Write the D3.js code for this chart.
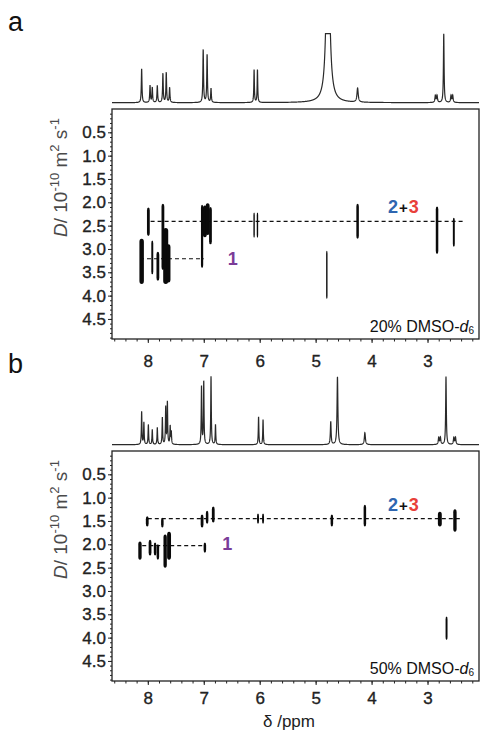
<!DOCTYPE html>
<html>
<head>
<meta charset="utf-8">
<script src="https://cdn.jsdelivr.net/npm/d3@7"></script>
<style>
  body { margin: 0; background: #fff; }
  svg { display: block; font-family: "Liberation Sans", Arial, sans-serif; }
</style>
</head>
<body>
<svg id="chart"></svg>
<script>
// 1D spectra, peak lists (shift ppm, height, half width ppm)
const specA_shift = [8.11, 7.96, 7.92, 7.83, 7.73, 7.67, 7.61, 7.01, 6.94, 6.87, 6.10, 6.04, 4.78, 4.25, 2.86, 2.83, 2.71, 2.58, 2.55];
const specA_height = [34, 17, 15, 17, 29, 30, 15, 53, 48, 14, 33, 33, 200, 14, 7, 7, 69, 7, 7];
const specA_hwhm = [0.007, 0.007, 0.007, 0.007, 0.007, 0.007, 0.007, 0.007, 0.007, 0.007, 0.006, 0.006, 0.032, 0.013, 0.009, 0.009, 0.007, 0.009, 0.009];

const specB_shift = [8.11, 8.07, 7.99, 7.92, 7.83, 7.74, 7.68, 7.65, 7.60, 7.58, 7.04, 7.00, 6.87, 6.79, 6.02, 5.94, 4.73, 4.61, 4.12, 2.80, 2.77, 2.67, 2.53, 2.50];
const specB_height = [33, 22, 20, 15, 17, 27, 37, 42, 18, 12, 58, 63, 68, 20, 28, 25, 23, 68, 12, 7, 7, 68, 7, 7];
const specB_hwhm = [0.006, 0.006, 0.006, 0.006, 0.006, 0.006, 0.006, 0.006, 0.006, 0.006, 0.006, 0.006, 0.006, 0.006, 0.006, 0.006, 0.008, 0.009, 0.011, 0.009, 0.009, 0.007, 0.009, 0.009];

// DOSY cross peaks (shift, D low, D high, width in ppm)
const dosyA_shift = [8.11, 7.99, 7.92, 7.82, 7.73, 7.68, 7.63, 7.03, 6.98, 6.93, 6.88, 6.10, 6.04, 4.80, 4.25, 2.83, 2.53];
const dosyA_dLow = [2.78, 2.11, 2.82, 3.06, 2.03, 2.55, 2.90, 2.05, 2.07, 2.02, 2.10, 2.22, 2.22, 3.04, 2.03, 2.09, 2.33];
const dosyA_dHigh = [3.75, 2.72, 3.54, 3.68, 3.45, 3.75, 3.72, 3.41, 2.75, 2.70, 2.90, 2.76, 2.76, 4.07, 2.78, 3.11, 2.95];
const dosyA_width = [0.08, 0.05, 0.035, 0.05, 0.05, 0.09, 0.07, 0.04, 0.07, 0.07, 0.05, 0.025, 0.025, 0.025, 0.045, 0.045, 0.035];

const dosyB_shift = [8.01, 7.74, 7.03, 6.94, 6.83, 6.03, 5.94, 4.71, 4.12, 2.78, 2.51, 8.14, 7.96, 7.87, 7.82, 7.69, 7.62, 6.98, 2.66];
const dosyB_dLow = [1.40, 1.43, 1.36, 1.28, 1.19, 1.34, 1.34, 1.36, 1.15, 1.30, 1.25, 1.94, 1.90, 1.96, 2.00, 1.79, 1.73, 1.96, 3.55];
const dosyB_dHigh = [1.62, 1.64, 1.64, 1.56, 1.53, 1.56, 1.56, 1.62, 1.62, 1.62, 1.73, 2.33, 2.24, 2.24, 2.33, 2.50, 2.33, 2.18, 4.05];
const dosyB_width = [0.05, 0.045, 0.05, 0.045, 0.05, 0.035, 0.035, 0.045, 0.045, 0.07, 0.06, 0.06, 0.05, 0.045, 0.045, 0.06, 0.07, 0.045, 0.035];

// guide lines (D, from ppm, to ppm): [2+3, 1]
const linesA_D = [2.41, 3.21];
const linesA_from = [7.95, 8.14];
const linesA_to = [2.37, 7.0];
const linesB_D = [1.45, 2.03];
const linesB_from = [8.0, 8.1];
const linesB_to = [2.4, 7.0];

const xTicks = [8, 7, 6, 5, 4, 3];
const yTicks = [0.5, 1.0, 1.5, 2.0, 2.5, 3.0, 3.5, 4.0, 4.5];
const solvents = ['20% DMSO-', '50% DMSO-'];

const W = 481, H = 734;
const svg = d3.select('#chart').attr('width', W).attr('height', H);

const x = d3.scaleLinear().domain([8.64, 2.08]).range([112, 479]);

const panels = [
  { key: 'a', off: 0, spec: [specA_shift, specA_height, specA_hwhm],
    dosy: [dosyA_shift, dosyA_dLow, dosyA_dHigh, dosyA_width],
    lines: [linesA_D, linesA_from, linesA_to], solvent: solvents[0],
    tickPad: 12, oneX: 6.57, oneY: 265 },
  { key: 'b', off: 342, spec: [specB_shift, specB_height, specB_hwhm],
    dosy: [dosyB_shift, dosyB_dLow, dosyB_dHigh, dosyB_width],
    lines: [linesB_D, linesB_from, linesB_to], solvent: solvents[1],
    tickPad: 7, oneX: 6.67, oneY: 550 }
];

const tickText = a => a.selectAll('text')
  .attr('font-size', 17).attr('fill', '#222').attr('stroke', '#222').attr('stroke-width', 0.35)
  .attr('font-family', '"Liberation Sans", Arial, sans-serif');

panels.forEach(p => {
  const g = svg.append('g');
  const top = 109 + p.off, bottom = 339 + p.off;
  const base = 102.7 + p.off;

  // panel letter
  g.append('text').attr('x', 8).attr('y', 31 + p.off)
    .attr('font-size', 27).attr('fill', '#111').text(p.key);

  // 1D spectrum
  const ys = d3.scaleLinear().domain([0, 69]).range([base, base - 69]).clamp(true);
  const [sh, ht, hw] = p.spec;
  const pts = d3.range(8.64, 2.08, -0.0015).map(d => {
    let v = 0;
    for (let i = 0; i < sh.length; i++) {
      const t = (d - sh[i]) / hw[i];
      v += ht[i] / (1 + t * t);
    }
    return [d, v];
  });
  g.append('path')
    .attr('d', d3.line().x(d => x(d[0])).y(d => ys(d[1]))(pts))
    .attr('fill', 'none').attr('stroke', '#2a2a2a').attr('stroke-width', 1.2);

  // D scale
  const y = d3.scaleLinear().domain([0, 4.93]).range([top, bottom]);

  // minor + major y ticks
  g.append('g').attr('transform', `translate(112,0)`)
    .call(d3.axisLeft(y).tickValues(d3.range(0.1, 4.95, 0.1)).tickSize(2).tickFormat(''))
    .call(a => a.select('.domain').remove())
    .call(a => a.selectAll('line').attr('stroke', '#222'));
  g.append('g').attr('transform', `translate(112,0)`)
    .call(d3.axisLeft(y).tickValues(yTicks).tickSize(4).tickPadding(2).tickFormat(d3.format('.1f')))
    .call(a => a.select('.domain').remove())
    .call(a => a.selectAll('line').attr('stroke', '#222'))
    .call(tickText);

  // x ticks
  g.append('g').attr('transform', `translate(0,${bottom})`)
    .call(d3.axisBottom(x).tickValues(d3.range(8.6, 2.1, -0.2)).tickSize(2.5).tickFormat(''))
    .call(a => a.select('.domain').remove())
    .call(a => a.selectAll('line').attr('stroke', '#222'));
  g.append('g').attr('transform', `translate(0,${bottom})`)
    .call(d3.axisBottom(x).tickValues(xTicks).tickSize(4).tickPadding(p.tickPad).tickFormat(d3.format('d')))
    .call(a => a.select('.domain').remove())
    .call(a => a.selectAll('line').attr('stroke', '#222'))
    .call(tickText);

  // frame
  g.append('rect').attr('x', 112).attr('y', top)
    .attr('width', 479 - 112).attr('height', bottom - top)
    .attr('fill', 'none').attr('stroke', '#222').attr('stroke-width', 1.3);

  // dashed guide lines
  const [lD, lF, lT] = p.lines;
  g.selectAll('.guide').data(lD).join('line')
    .attr('x1', (d, i) => x(lF[i])).attr('x2', (d, i) => x(lT[i]))
    .attr('y1', d => y(d)).attr('y2', d => y(d))
    .attr('stroke', '#111').attr('stroke-width', 1.2).attr('stroke-dasharray', '4,3');

  // DOSY cross peaks
  const [ds, dl, dh, dw] = p.dosy;
  g.selectAll('.blob').data(ds).join('rect')
    .attr('x', (d, i) => x(d + dw[i] / 2))
    .attr('width', (d, i) => x(d - dw[i] / 2) - x(d + dw[i] / 2))
    .attr('y', (d, i) => y(dl[i]))
    .attr('height', (d, i) => y(dh[i]) - y(dl[i]))
    .attr('rx', (d, i) => (x(d - dw[i] / 2) - x(d + dw[i] / 2)) / 2)
    .attr('ry', 3)
    .attr('fill', '#0a0a0a');

  // compound labels
  const lab = g.append('text').attr('x', 388).attr('y', y(lD[0]) - 8)
    .attr('font-size', 18).attr('font-weight', 'bold');
  lab.append('tspan').attr('fill', '#2f66b0').text('2');
  lab.append('tspan').attr('fill', '#111').attr('font-size', 15).attr('dx', 1).text('+');
  lab.append('tspan').attr('fill', '#e8403a').attr('dx', 1).text('3');
  g.append('text').attr('x', x(p.oneX)).attr('y', p.oneY)
    .attr('font-size', 18).attr('font-weight', 'bold').attr('fill', '#7a3c98').text('1');

  // solvent label
  const sol = g.append('text').attr('x', 474).attr('y', bottom - 7)
    .attr('text-anchor', 'end').attr('font-size', 16).attr('fill', '#111');
  sol.append('tspan').text(p.solvent);
  sol.append('tspan').attr('font-style', 'italic').text('d');
  sol.append('tspan').attr('font-size', 10).attr('dy', 2).text('6');

  // y-axis title
  const yl = g.append('text')
    .attr('transform', `translate(67,${top + 128}) rotate(-90)`)
    .attr('font-size', 19).attr('fill', '#4a4a4a');
  yl.append('tspan').attr('font-style', 'italic').text('D');
  yl.append('tspan').text('/ 10');
  yl.append('tspan').attr('font-size', 13).attr('dy', -8).text('-10');
  yl.append('tspan').attr('dy', 8).text(' m');
  yl.append('tspan').attr('font-size', 13).attr('dy', -8).text('2');
  yl.append('tspan').attr('dy', 8).text(' s');
  yl.append('tspan').attr('font-size', 13).attr('dy', -8).text('-1');
});

// x-axis title
svg.append('text').attr('x', 289).attr('y', 727).attr('text-anchor', 'middle')
  .attr('font-size', 17).attr('fill', '#222').text('δ /ppm');
</script>
</body>
</html>
